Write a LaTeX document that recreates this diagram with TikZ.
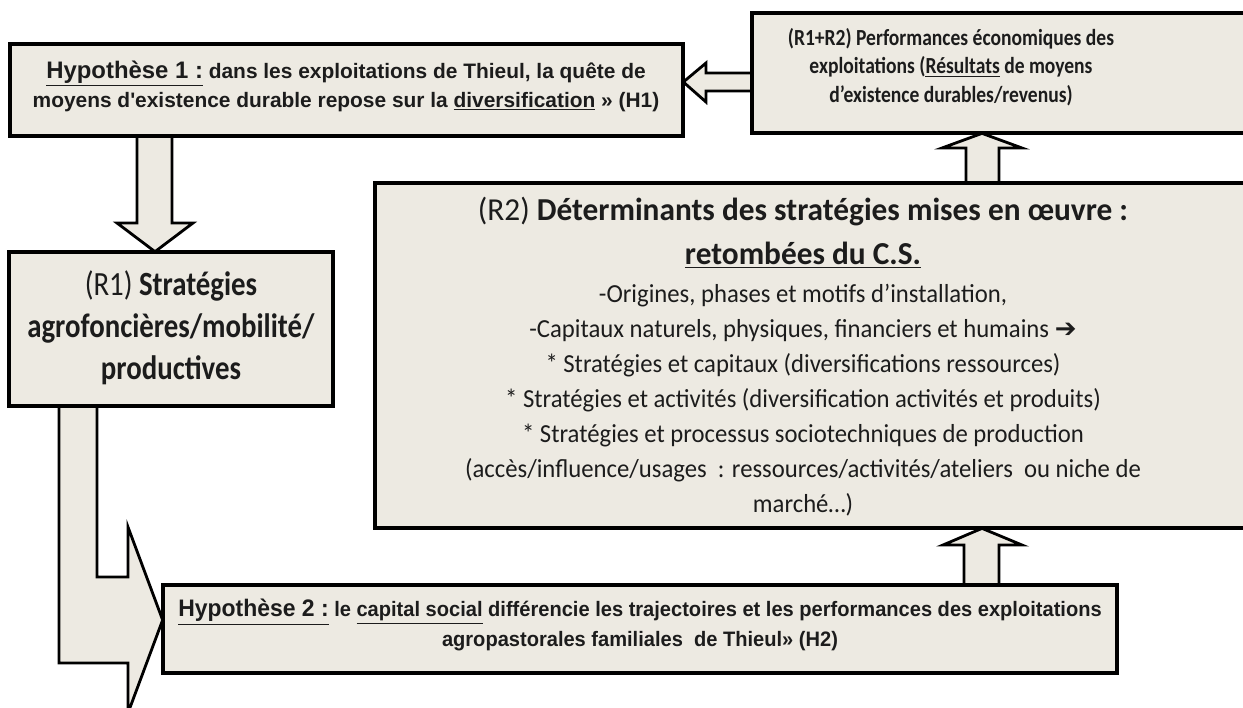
\documentclass[tikz,border=0pt]{standalone}
\usepackage{fontspec}
\setmainfont{Carlito}
\newfontfamily\calfont[FakeStretch=0.85]{Carlito}
\newfontfamily\calhead[FakeStretch=0.98]{Carlito}
\newfontfamily\calbody[FakeStretch=0.95]{Carlito}
\newfontfamily\arialfont{Liberation Sans}
\newfontfamily\arialnarrow[FakeStretch=0.96]{Liberation Sans}
\newfontfamily\symfont{DejaVu Sans}
\usetikzlibrary{fit,calc}
\definecolor{boxfill}{HTML}{EDEAE2}
\definecolor{ink}{HTML}{1C1C1C}
\tikzset{
  box/.style={draw=black, line width=2pt, fill=boxfill, rectangle, inner sep=0pt},
  blockarrow/.style={draw=black, line width=1.6pt, fill=boxfill, line join=miter},
  txt/.style={align=center, inner sep=0pt, text=ink},
  hypfont/.style={font=\arialfont\bfseries\fontsize{11.9}{16.5}\selectfont},
}
\begin{document}
\begin{tikzpicture}[x=0.02cm, y=-0.02cm]
\useasboundingbox (0,0) rectangle (1243,707);
% corner coordinates of boxes
\coordinate (h1a) at (10,44);   \coordinate (h1b) at (683,136);
\coordinate (rra) at (752,13);  \coordinate (rrb) at (1246,133);
\coordinate (r1a) at (9,252);   \coordinate (r1b) at (333,406);
\coordinate (r2a) at (375,183); \coordinate (r2b) at (1246,528);
\coordinate (h2a) at (163,585); \coordinate (h2b) at (1117,673);
% invisible anchors for the arrows
\path node[fit=(h1a)(h1b), inner sep=0pt] (h1) {}
      node[fit=(rra)(rrb), inner sep=0pt] (rr) {}
      node[fit=(r1a)(r1b), inner sep=0pt] (r1) {}
      node[fit=(r2a)(r2b), inner sep=0pt] (r2) {}
      node[fit=(h2a)(h2b), inner sep=0pt] (h2) {};
% block arrows
\draw[blockarrow] (rr.west |- 0,73) -- (706,73) -- (706,63) -- (h1.east |- 0,82)
   -- (706,102) -- (706,91) -- (rr.west |- 0,91) -- cycle;
\draw[blockarrow] (137,0 |- h1.south) -- (137,223) -- (117,223) -- (155,0 |- r1.north)
   -- (193,223) -- (172,223) -- (172,0 |- h1.south) -- cycle;
\draw[blockarrow] (966,0 |- r2.north) -- (966,148) -- (942,148) -- (982,0 |- rr.south)
   -- (1022,148) -- (999,148) -- (999,0 |- r2.north) -- cycle;
\draw[blockarrow] (964,0 |- h2.north) -- (964,545) -- (943,545) -- (982,0 |- r2.south)
   -- (1022,545) -- (999,545) -- (999,0 |- h2.north) -- cycle;
\draw[blockarrow] (59,0 |- r1.south) -- (59,663) -- (128,663) -- (128,713) -- (h2.west |- 0,620)
   -- (128,527) -- (128,577) -- (97,577) -- (97,0 |- r1.south) -- cycle;
% boxes
\node[box, fit=(h1a)(h1b)] (h1box) {};
\node[box, fit=(rra)(rrb)] (rrbox) {};
\node[box, fit=(r1a)(r1b)] (r1box) {};
\node[box, fit=(r2a)(r2b)] (r2box) {};
\node[box, fit=(h2a)(h2b)] (h2box) {};
% texts
\node[txt, hypfont] (h1t) at (346,86)
  {{\fontsize{13.6}{16.5}\selectfont\underline{Hypothèse 1 :}} dans les exploitations de Thieul, la quête de\\
   moyens d'existence durable repose sur la \underline{diversification} » (H1)};
\node[txt, font=\calfont\bfseries\fontsize{13.1}{16.2}\selectfont] (rrt) at (951,67)
  {(R1+R2) Performances économiques des\\
   exploitations (\underline{Résultats} de moyens\\
   d’existence durables/revenus)};
\node[txt, font=\calfont\fontsize{19.3}{23.9}\selectfont] (r1t) at (171,328)
  {(R1) \textbf{Stratégies}\\
   \textbf{agrofoncières/mobilité/}\\
   \textbf{productives}};
\node[txt, font=\calhead\fontsize{18.2}{25}\selectfont] (r2h) at (803,233)
  {(R2) \textbf{Déterminants des stratégies mises en œuvre :}\\
   \textbf{\underline{retombées du C.S.}}};
\node[txt, font=\calbody\fontsize{14.8}{19.9}\selectfont] (r2t) at (803,400)
  {-Origines, phases et motifs d’installation,\\
   -Capitaux naturels, physiques, financiers et humains {\symfont\bfseries ➔}\\
   * Stratégies et capitaux (diversifications ressources)\\
   * Stratégies et activités (diversification activités et produits)\\
   * Stratégies et processus sociotechniques de production\\
   (accès/influence/usages\ \ : ressources/activités/ateliers\ \ ou niche de\\
   marché…)};
\node[txt, font=\arialnarrow\bfseries\fontsize{11.9}{17}\selectfont] (h2t) at (640,625)
  {{\fontsize{13.6}{17}\selectfont\underline{Hypothèse 2 :}} le \underline{capital social} différencie les trajectoires et les performances des exploitations\\
   agropastorales familiales\ \ de Thieul» (H2)};
\end{tikzpicture}
\end{document}
